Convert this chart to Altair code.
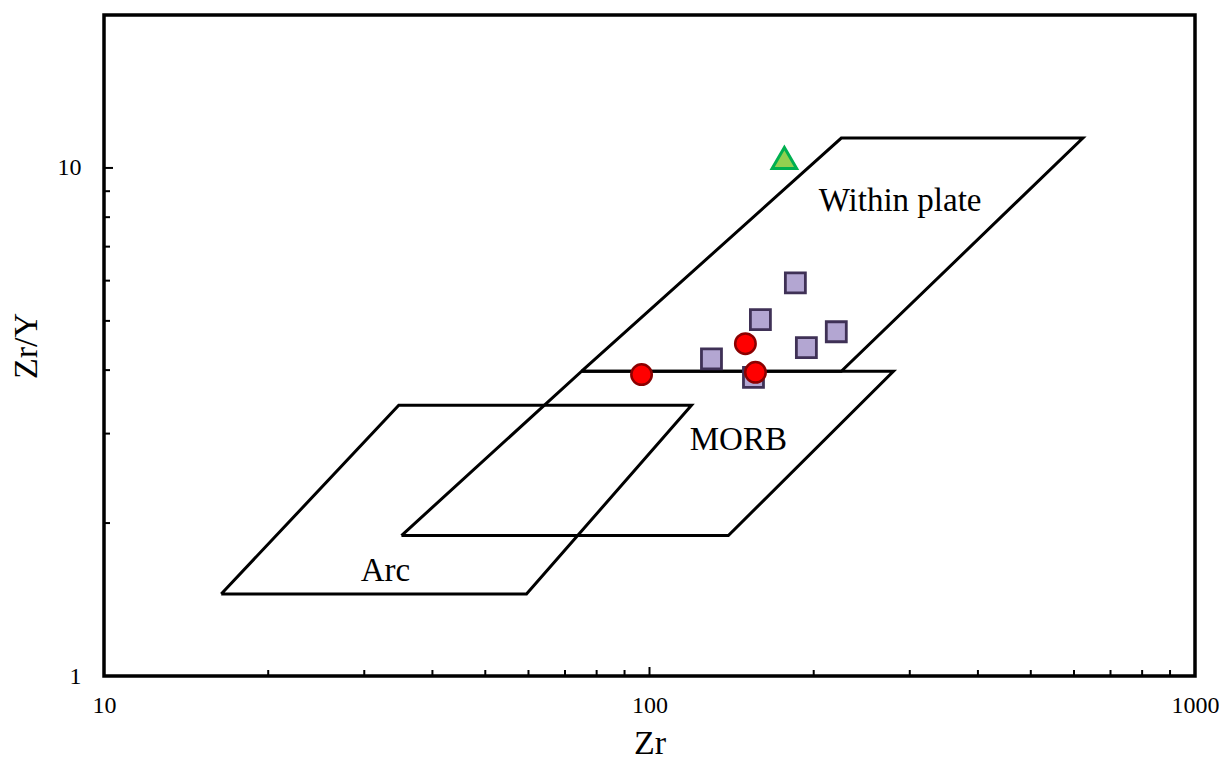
import altair as alt
import pandas as pd

# ---- discrimination fields (Zr, Zr/Y) vertices, closed polygons ----
arc_zr = [16.4, 34.7, 119.4, 59.5, 16.4]
arc_ratio = [1.45, 3.41, 3.41, 1.45, 1.45]
morb_zr = [35.1, 75.1, 280.0, 139.5, 35.1]
morb_ratio = [1.89, 3.98, 3.98, 1.89, 1.89]
wp_zr = [75.1, 224.7, 623.0, 224.7, 75.1]
wp_ratio = [3.98, 11.45, 11.45, 3.98, 3.98]

# ---- samples ----
circle_zr = [96.7, 149.9, 156.4]
circle_ratio = [3.92, 4.51, 3.96]
square_zr = [129.9, 159.7, 185.1, 155.1, 193.9, 220.0]
square_ratio = [4.21, 5.03, 5.94, 3.87, 4.43, 4.76]
tri_zr = [176.7]
tri_ratio = [10.46]

# ---- field labels ----
label_text = ["Within plate", "MORB", "Arc"]
label_zr = [288.0, 145.5, 32.8]
label_ratio = [8.6, 2.91, 1.61]

# ---- axis ticks ----
x_labels = [10, 100, 1000]
y_labels = [1, 10]
x_minor = [20, 30, 40, 50, 60, 70, 80, 90, 200, 300, 400, 500, 600, 700, 800, 900]
x_major = [100]
y_minor = [2, 3, 4, 5, 6, 7, 8, 9]
y_major = [10]

W, H = 1091, 661
FONT = "Liberation Serif"

rows = []
for name, xs_, ys_ in [("Arc", arc_zr, arc_ratio), ("MORB", morb_zr, morb_ratio), ("WP", wp_zr, wp_ratio)]:
    for i, (a, b) in enumerate(zip(xs_, ys_)):
        rows.append({"field": name, "i": i, "zr": a, "r": b})
fields = pd.DataFrame(rows)

xs = alt.Scale(type="log", domain=[10, 1000], nice=False)
ys = alt.Scale(type="log", domain=[1, 20], nice=False)

x_axis = alt.Axis(values=x_labels, format="d", labelPadding=17,
                  title="Zr", titleX=W / 2, titleY=77, titleBaseline="alphabetic")
y_axis = alt.Axis(values=y_labels, format="d", labelPadding=23,
                  title="Zr/Y", titleX=-78, titleY=H / 2, titleAngle=270,
                  titleAlign="center", titleBaseline="middle")

X = alt.X("zr:Q", scale=xs, axis=x_axis)
Y = alt.Y("r:Q", scale=ys, axis=y_axis)

lines = alt.Chart(fields).mark_line(color="black", strokeWidth=3, strokeJoin="miter").encode(
    x=X, y=Y, detail="field:N", order="i:Q",
)

def pts(zr, r):
    return pd.DataFrame({"zr": zr, "r": r})

squares = alt.Chart(pts(square_zr, square_ratio)).mark_point(
    shape="square", size=400, filled=True, fill="#b3a6d2", stroke="#3f3156", strokeWidth=2.8, opacity=1
).encode(x=X, y=Y)

circles = alt.Chart(pts(circle_zr, circle_ratio)).mark_point(
    shape="circle", size=420, filled=True, fill="#ff0000", stroke="#8b0000", strokeWidth=2.5, opacity=1
).encode(x=X, y=Y)

tris = alt.Chart(pts(tri_zr, tri_ratio)).mark_point(
    shape="triangle-up", size=600, filled=True, fill="#92d050", stroke="#00b050", strokeWidth=3, opacity=1
).encode(x=X, y=Y)

labels = alt.Chart(pd.DataFrame({"t": label_text, "zr": label_zr, "r": label_ratio})).mark_text(
    font=FONT, fontSize=33, color="black", align="center", baseline="middle"
).encode(x=X, y=Y, text="t:N")

def xticks(vals, length):
    return alt.Chart(pd.DataFrame({"zr": vals})).mark_rule(color="black", strokeWidth=2).encode(
        x=X, y=alt.value(H), y2=alt.value(H - length))

def yticks(vals, length):
    return alt.Chart(pd.DataFrame({"r": vals})).mark_rule(color="black", strokeWidth=2).encode(
        y=Y, x=alt.value(0), x2=alt.value(length))

chart = alt.layer(
    lines, xticks(x_minor, 6), xticks(x_major, 9), yticks(y_minor, 6), yticks(y_major, 9),
    labels, squares, circles, tris,
).properties(
    width=W, height=H,
    autosize=alt.AutoSizeParams(type="none"),
    padding={"left": 96, "top": 7, "right": 24, "bottom": 85},
    background="white",
).configure_view(
    stroke="black", strokeWidth=3.5
).configure_axis(
    grid=False, ticks=False, tickSize=0, domain=False,
    labelFont=FONT, labelFontSize=24, labelColor="black", labelFlush=False, labelOverlap=False,
    titleFont=FONT, titleFontSize=34, titleFontWeight="normal", titleColor="black",
)

chart.save("out.html", embed_options={"renderer": "svg", "actions": False})
